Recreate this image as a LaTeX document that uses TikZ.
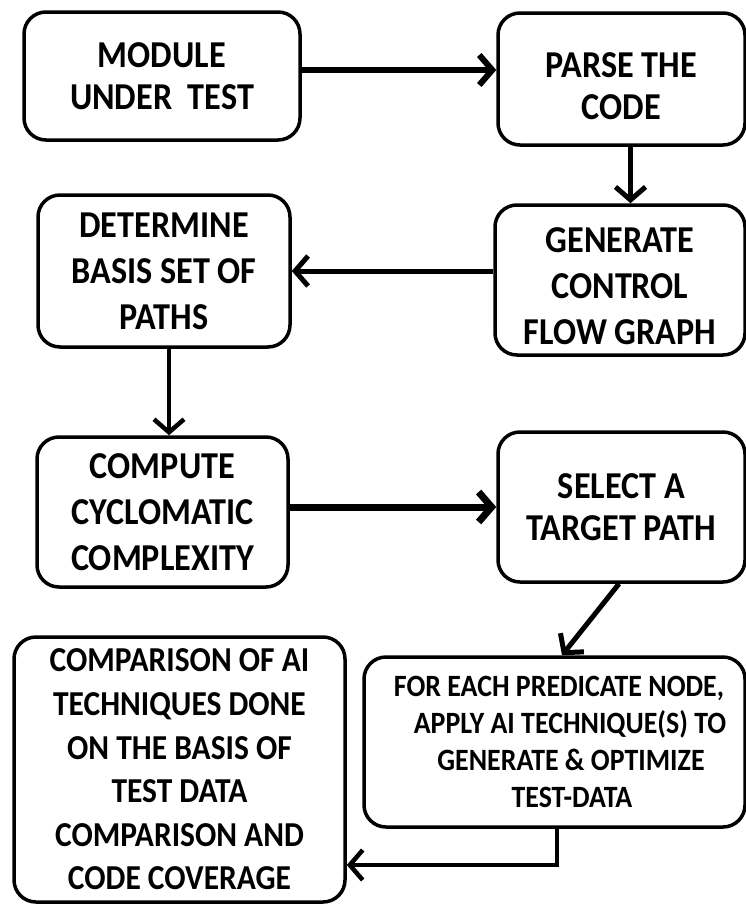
\documentclass[tikz,border=0pt]{standalone}
\usepackage{fontspec}
\setmainfont{Carlito}[FakeStretch=0.9]
\usetikzlibrary{arrows.meta}
\begin{document}
\begin{tikzpicture}[x=1pt,y=-1pt,
  box/.style={draw, line width=3.5pt, rounded corners=22pt, align=center,
    inner sep=0pt, font=\fontsize{38}{44}\selectfont\bfseries},
  twoline/.style={font=\fontsize{38}{42}\selectfont\bfseries},
  threeline/.style={font=\fontsize{38}{46}\selectfont\bfseries},
  smalltext/.style={font=\fontsize{31}{37}\selectfont\bfseries},
  midtext/.style={font=\fontsize{35}{43.6}\selectfont\bfseries},
  flow/.style={line width=5pt, -{Straight Barb[length=13pt,width=30pt]}}]
\useasboundingbox (0,0) rectangle (746,905);

% process steps
\node[box, twoline, minimum width=276pt, minimum height=128pt] (mut) at (162,76)
  {MODULE\\UNDER\ \ TEST};
\node[box, twoline, minimum width=247pt, minimum height=132pt] (parse) at (621.5,79)
  {\rule{0pt}{38.5pt}PARSE THE\\CODE};
\node[box, threeline, minimum width=250pt, minimum height=150pt] (cfg) at (620,280)
  {\rule{0pt}{36.5pt}GENERATE\\CONTROL\\FLOW GRAPH};
\node[box, threeline, minimum width=252pt, minimum height=152pt] (basis) at (164,271)
  {DETERMINE\\BASIS SET OF\\PATHS};
\node[box, threeline, minimum width=251pt, minimum height=150pt] (cyc) at (162.5,512)
  {COMPUTE\\CYCLOMATIC\\COMPLEXITY};
\node[box, twoline, minimum width=247pt, minimum height=150pt] (target) at (621.5,507)
  {SELECT A\\TARGET PATH};
\node[box, smalltext, minimum width=381pt, minimum height=170pt] (ai) at (554.5,742)
  {\hspace*{9pt}FOR EACH PREDICATE NODE,\\
   \hspace*{31pt}APPLY AI TECHNIQUE(S) TO\\
   \hspace*{33pt}GENERATE \& OPTIMIZE\\
   \hspace*{35pt}TEST-DATA};
\node[box, midtext, minimum width=331pt, minimum height=265pt] (cmp) at (179.5,769.5)
  {COMPARISON OF AI\\TECHNIQUES DONE\\ON THE BASIS OF\\TEST DATA\\COMPARISON AND\\CODE COVERAGE};

\coordinate (bend) at (557,865);

% connectors
\draw[flow, line width=6pt] ([yshift=6pt]mut.east) -- ([yshift=6pt]mut.east -| parse.west);
\draw[flow] ([xshift=9pt]parse.south) -- ([xshift=9pt]parse.south |- cfg.north);
\draw[flow] (cfg.west |- basis.east) -- (basis.east);
\draw[flow, line width=4.5pt] ([xshift=5pt]basis.south) -- ([xshift=5pt]basis.south |- cyc.north);
\draw[flow, line width=7pt] (cyc.east |- target.west) -- (target.west);
\draw[flow] ([xshift=-2.5pt]target.south) -- ([xshift=7.5pt]ai.north);
\draw[flow, line width=4.5pt] (bend |- ai.south) |- (bend -| cmp.east);
\end{tikzpicture}
\end{document}
